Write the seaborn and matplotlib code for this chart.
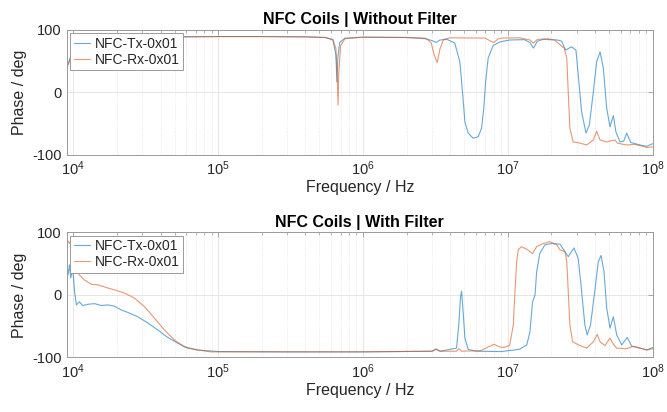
"""
NFC coil phase response, with and without filter.
"""

import matplotlib
matplotlib.use('Agg')
import matplotlib.pyplot as plt
import seaborn as sns
import pandas as pd

# --- Without filter -------------------------------------------------------
nofilt_tx_freq = [9.0e3, 9.5e3, 1.0e4, 1.1e4, 1.3e4, 1.6e4, 2.0e4, 3.0e4, 5.0e4,
                  1.0e5, 2.0e5, 4.0e5, 5.5e5, 6.2e5, 6.5e5, 6.6e5, 6.7e5, 6.9e5,
                  7.5e5, 1.0e6, 2.0e6, 2.7e6, 3.0e6, 3.2e6, 3.4e6, 3.8e6, 4.3e6,
                  4.66e6, 4.86e6, 5.05e6, 5.32e6, 5.75e6, 6.24e6, 6.58e6, 6.82e6,
                  7.02e6, 7.31e6, 7.91e6, 8.8e6, 1.03e7, 1.3e7, 1.42e7, 1.5e7,
                  1.6e7, 1.75e7, 2.2e7, 2.35e7, 2.5e7, 2.75e7, 2.95e7, 3.06e7,
                  3.23e7, 3.46e7, 3.65e7, 3.89e7, 4.1e7, 4.33e7, 4.56e7, 4.81e7,
                  5.07e7, 5.35e7, 5.57e7, 5.94e7, 6.3e7, 6.61e7, 7.05e7, 8.17e7,
                  9.08e7, 1.0e8]
nofilt_tx_phase = [40, 55, 66, 75, 82, 85, 86.5, 88, 89,
                   89.5, 89.5, 89, 88, 84, 60, 17, 55, 80,
                   87, 88.5, 88, 86, 83, 80, 84, 85, 79,
                   49, 1, -47, -65, -73, -71, -57, -25,
                   17, 55, 75, 81, 84, 84.5, 80, 71,
                   82, 85, 84, 82, 68, 73, 68, 28,
                   -31, -65, -52, 1, 49, 65, 39, -25,
                   -55, -37, -63, -79, -78, -65, -80, -84,
                   -86, -82]

nofilt_rx_freq = [9.0e3, 9.5e3, 1.0e4, 1.1e4, 1.3e4, 1.6e4, 2.0e4, 3.0e4, 5.0e4,
                  1.0e5, 2.0e5, 4.0e5, 5.5e5, 6.2e5, 6.5e5, 6.65e5, 6.72e5, 6.8e5,
                  7.0e5, 7.5e5, 1.0e6, 2.0e6, 2.7e6, 2.95e6, 3.1e6, 3.25e6, 3.4e6,
                  3.6e6, 4.0e6, 7.0e6, 7.6e6, 8.0e6, 8.6e6, 9.0e6, 1.2e7, 1.42e7,
                  1.5e7, 1.6e7, 1.9e7, 2.1e7, 2.3e7, 2.45e7, 2.55e7, 2.61e7, 2.68e7,
                  2.82e7, 3.15e7, 3.5e7, 3.89e7, 4.1e7, 4.33e7, 4.81e7, 5.2e7,
                  5.48e7, 5.7e7, 6.6e7, 7.5e7, 8.2e7, 9.1e7, 1.0e8]
nofilt_rx_phase = [39, 52, 64, 74, 81, 85, 86.5, 88, 89,
                   89.5, 89.5, 89, 88, 85, 70, 20, -20, 30,
                   75, 86, 88.5, 88, 87, 80, 60, 48, 70,
                   85, 87.5, 87, 82, 80, 86, 87, 87.5, 84,
                   79, 85, 86, 84, 76, 71, 55, 1, -57,
                   -79, -81, -84, -76, -62, -76, -79, -77,
                   -76, -81, -84, -83, -85, -88, -87]

# --- With filter ----------------------------------------------------------
filt_tx_freq = [9.0e3, 9.2e3, 9.4e3, 9.6e3, 9.9e3, 1.02e4, 1.05e4, 1.1e4, 1.16e4,
                1.26e4, 1.4e4, 1.56e4, 1.73e4, 1.92e4, 2.14e4, 2.38e4, 2.79e4,
                3.27e4, 3.83e4, 4.49e4, 5.26e4, 6.17e4, 7.2e4, 1.0e5, 3.0e5,
                1.0e6, 3.0e6, 3.2e6, 3.4e6, 4.42e6, 4.58e6, 4.71e6, 4.79e6,
                4.91e6, 5.05e6, 5.32e6, 6.0e6, 9.0e6, 1.2e7, 1.35e7, 1.42e7,
                1.48e7, 1.54e7, 1.58e7, 1.66e7, 1.8e7, 2.0e7, 2.29e7, 2.48e7,
                2.61e7, 2.86e7, 3.06e7, 3.23e7, 3.4e7, 3.53e7, 3.72e7, 3.98e7,
                4.21e7, 4.4e7, 4.61e7, 4.81e7, 5.07e7, 5.35e7, 5.64e7, 6.11e7,
                6.67e7, 7.16e7, 8.17e7, 9.1e7, 1.0e8]
filt_tx_phase = [42, 32, 48, 27, 43, 5, -16, -11, -17,
                 -15, -14, -17, -16, -18, -24, -28, -35,
                 -45, -56, -68, -77, -85, -88, -90.5, -91,
                 -91, -90, -87, -90, -85, -48, -3, 6,
                 -27, -69, -87, -90, -90.5, -87, -80, -59,
                 -11, 0, 37, 66, 80, 82, 81, 69,
                 61, 75, 58, 6, -48, -64, -48, 6,
                 53, 63, 37, -21, -53, -35, -64, -80,
                 -68, -82, -85, -88, -84]

filt_rx_freq = [9.0e3, 9.2e3, 9.4e3, 9.6e3, 9.9e3, 1.05e4, 1.1e4, 1.19e4, 1.33e4,
                1.48e4, 1.73e4, 1.92e4, 2.25e4, 2.64e4, 3.1e4, 3.63e4, 4.25e4,
                4.98e4, 5.83e4, 7.21e4, 8.91e4, 3.0e5, 1.0e6, 3.0e6, 3.2e6,
                3.4e6, 4.4e6, 4.6e6, 4.8e6, 6.5e6, 7.5e6, 8.0e6, 8.8e6, 9.3e6,
                1.0e7, 1.03e7, 1.09e7, 1.12e7, 1.15e7, 1.18e7, 1.24e7, 1.35e7,
                1.48e7, 1.58e7, 1.75e7, 1.95e7, 2.17e7, 2.29e7, 2.48e7, 2.55e7,
                2.61e7, 2.68e7, 2.8e7, 3.15e7, 3.5e7, 3.89e7, 4.14e7, 4.33e7,
                4.68e7, 5.07e7, 5.35e7, 5.64e7, 6.61e7, 7.35e7, 8.17e7, 9.1e7,
                1.0e8]
filt_rx_phase = [80, 86, 82, 86, 72, 45, 32, 24, 17,
                 16, 11, 8, 3, -5, -19, -37, -56,
                 -72, -83, -88, -91, -91, -91, -90, -86,
                 -90, -90, -86, -90, -89, -82, -79, -83, -84,
                 -82, -80, -48, 6, 53, 72, 77, 73,
                 66, 77, 82, 85, 80, 72, 69, 53,
                 6, -48, -75, -81, -85, -75, -63, -75,
                 -81, -69, -79, -85, -86, -82, -85, -88,
                 -86]

labels = ['NFC-Tx-0x01', 'NFC-Rx-0x01']
colors = ['#0072BD', '#D95319']
titles = ['NFC Coils | Without Filter', 'NFC Coils | With Filter']


def make_frame(tx_freq, tx_phase, rx_freq, rx_phase):
    tx = pd.DataFrame({'freq': tx_freq, 'phase': tx_phase, 'coil': labels[0]})
    rx = pd.DataFrame({'freq': rx_freq, 'phase': rx_phase, 'coil': labels[1]})
    return pd.concat([tx, rx], ignore_index=True)


def style_axis(ax, title):
    ax.set_xscale('log')
    ax.set_xlim(9e3, 1e8)
    ax.set_ylim(-100, 100)
    ax.set_yticks([-100, 0, 100])
    ax.set_xticks([1e4, 1e5, 1e6, 1e7, 1e8])
    ax.grid(True, which='major', color='#e6e6e6', linewidth=0.7, linestyle='-')
    ax.grid(True, which='minor', color='#e3e3e3', linewidth=0.6, linestyle=':')
    ax.tick_params(which='both', direction='in', top=True, right=True,
                   colors='#9a9a9a', labelcolor='#262626', labelsize=10.5)
    ax.tick_params(which='major', length=3.5, width=0.6)
    ax.tick_params(which='minor', length=2, width=0.5)
    for s in ax.spines.values():
        s.set_color('#9a9a9a')
        s.set_linewidth(0.7)
    ax.set_title(title, fontsize=11.5, fontweight='bold', color='black', pad=4)
    ax.set_xlabel('Frequency / Hz', fontsize=11.5, color='#262626')
    ax.set_ylabel('Phase / deg', fontsize=11.5, color='#262626')
    ax.xaxis.set_label_coords(0.5, -0.2)
    ax.yaxis.set_label_coords(-0.068, 0.5)
    leg = ax.legend(loc='upper left', fontsize=10, handlelength=1.2,
                    handletextpad=0.3, borderaxespad=0.25, borderpad=0.25,
                    labelspacing=0.15, fancybox=False, framealpha=1,
                    edgecolor='#9a9a9a')
    leg.get_frame().set_linewidth(0.7)


if __name__ == '__main__':
    sns.set_theme(style='white')
    plt.rcParams['font.family'] = ['Liberation Sans', 'DejaVu Sans']
    plt.rcParams['mathtext.default'] = 'regular'
    plt.rcParams['axes.unicode_minus'] = False

    fig = plt.figure(figsize=(6.67, 4.12), dpi=100)
    ax_top = fig.add_axes([0.100, 0.6238, 0.8786, 0.3034])
    ax_bot = fig.add_axes([0.100, 0.1323, 0.8786, 0.3039])

    frames = [
        make_frame(nofilt_tx_freq, nofilt_tx_phase, nofilt_rx_freq, nofilt_rx_phase),
        make_frame(filt_tx_freq, filt_tx_phase, filt_rx_freq, filt_rx_phase),
    ]

    for ax, df, title in zip([ax_top, ax_bot], frames, titles):
        sns.lineplot(data=df, x='freq', y='phase', hue='coil', hue_order=labels,
                     palette=colors, estimator=None, linewidth=0.8, alpha=0.6,
                     ax=ax)
        style_axis(ax, title)

    fig.savefig('out.png', dpi=100)
    plt.close(fig)
